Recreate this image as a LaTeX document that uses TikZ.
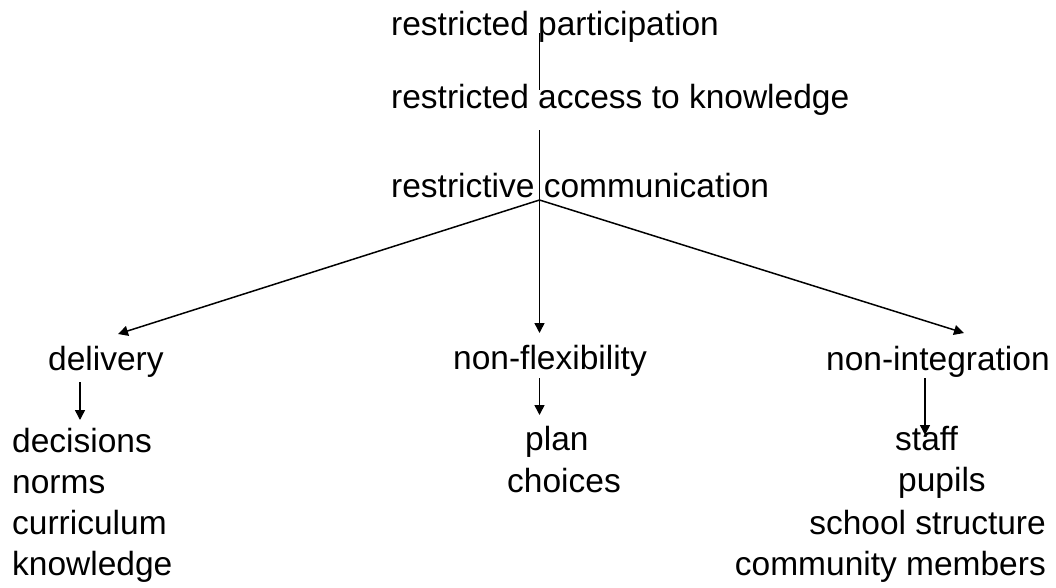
\documentclass[tikz,border=0pt]{standalone}
\usepackage{fontspec}
\setmainfont{Liberation Sans}
\usetikzlibrary{arrows.meta}
\tikzset{
  lbl/.style={anchor=base west, inner sep=0pt, font=\fontsize{33.5}{40}\selectfont},
  lblr/.style={anchor=base east, inner sep=0pt, font=\fontsize{33.5}{40}\selectfont},
  conn/.style={line width=1.5pt, draw=black},
  arr/.style={conn, -{Triangle[length=10pt,width=10pt]}}
}
\begin{document}
\begin{tikzpicture}[x=1pt,y=-1pt]
\useasboundingbox (0,0) rectangle (1056,587);
% top chain
\node[lbl] (P) at (391,35) {restricted participation};
\node[lbl] (A) at (391,108) {restricted access to knowledge};
\node[lbl] (C) at (391,197) {restrictive communication};
\coordinate (p1) at (539.5,33);
\coordinate (a1) at (539.5,90);
\coordinate (a2) at (539.5,130);
\coordinate (br) at (539.5,200);
\draw[conn] (p1) -- (a1);
\draw[conn] (a2) -- (br);
% second level
\node[lbl] (D) at (48,370) {delivery};
\node[lbl] (F) at (453,369) {non-flexibility};
\node[lbl] (I) at (826,370) {non-integration};
\coordinate (dt) at (118,334);
\coordinate (ft) at (539.5,333);
\coordinate (it) at (964,333);
\draw[arr] (br) -- (dt);
\draw[arr] (br) -- (ft);
\draw[arr] (br) -- (it);
% left column
\node[lbl] (d1) at (12,452) {decisions};
\node[lbl] (d2) at (12,493) {norms};
\node[lbl] (d3) at (12,534) {curriculum};
\node[lbl] (d4) at (12,575) {knowledge};
\coordinate (ds) at (80,382);
\coordinate (de) at (80,420);
\draw[arr] (ds) -- (de);
% middle column
\node[lbl] (f1) at (525,450) {plan};
\node[lbl] (f2) at (507,492) {choices};
\coordinate (fs) at (539.5,378);
\coordinate (fe) at (539.5,415);
\draw[arr] (fs) -- (fe);
% right column
\node[lbl] (i1) at (895,450) {staff};
\node[lbl] (i2) at (898,491) {pupils};
\node[lblr] (i3) at (1046,534) {school structure};
\node[lblr] (i4) at (1046,575) {community members};
\coordinate (is) at (925,378);
\coordinate (ie) at (925,435);
\draw[arr] (is) -- (ie);
\end{tikzpicture}
\end{document}
